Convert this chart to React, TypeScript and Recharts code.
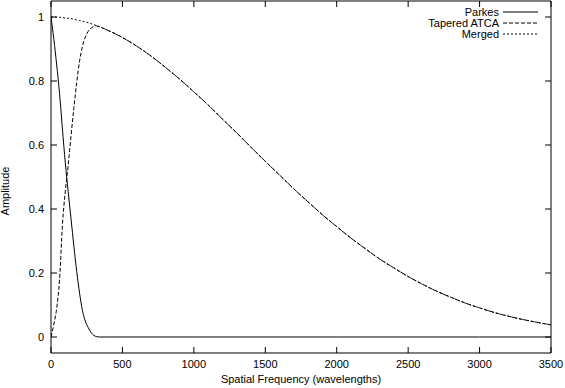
import React from "react";
import { LineChart, Line, XAxis, YAxis, ReferenceArea, Legend } from "recharts";

// ---- data ----
const PARKES_X = [0, 20, 40, 60, 80, 100, 120, 140, 160, 180, 200, 220, 240, 260, 280, 300, 320, 340, 400, 1000, 2000, 3000, 3500];
const PARKES_Y = [1.0, 0.93, 0.85, 0.76, 0.65, 0.545, 0.455, 0.37, 0.285, 0.205, 0.137, 0.083, 0.05, 0.03, 0.014, 0.005, 0.001, 0, 0, 0, 0, 0, 0];

const TAPERED_X = [0, 20, 40, 60, 80, 100, 120, 140, 160, 180, 200, 220, 240, 260, 280, 300, 320, 340, 360, 380, 400,
  500, 600, 700, 800, 900, 1000, 1100, 1200, 1300, 1400, 1500, 1600, 1700, 1800, 1900, 2000, 2100, 2200, 2300, 2400,
  2500, 2600, 2700, 2800, 2900, 3000, 3100, 3200, 3300, 3400, 3500];
const TAPERED_Y = [0, 0.04, 0.09, 0.18, 0.35, 0.455, 0.535, 0.628, 0.715, 0.795, 0.862, 0.908, 0.937, 0.955, 0.965, 0.97, 0.972, 0.969, 0.966, 0.962, 0.958,
  0.936, 0.909, 0.878, 0.843, 0.806, 0.766, 0.725, 0.681, 0.638, 0.593, 0.549, 0.506, 0.463, 0.422, 0.382, 0.345, 0.309, 0.276, 0.244, 0.216,
  0.189, 0.165, 0.143, 0.124, 0.106, 0.091, 0.077, 0.065, 0.055, 0.046, 0.038];

const MERGED_X = [0, 20, 40, 60, 80, 100, 120, 140, 160, 180, 200, 220, 240, 260, 280, 300, 320, 340, 360, 380, 400,
  500, 600, 700, 800, 900, 1000, 1100, 1200, 1300, 1400, 1500, 1600, 1700, 1800, 1900, 2000, 2100, 2200, 2300, 2400,
  2500, 2600, 2700, 2800, 2900, 3000, 3100, 3200, 3300, 3400, 3500];
const MERGED_Y = [1.0, 0.9999, 0.9996, 0.999, 0.998, 0.997, 0.996, 0.995, 0.993, 0.991, 0.989, 0.987, 0.985, 0.982, 0.979, 0.976, 0.973, 0.97, 0.966, 0.962, 0.958,
  0.936, 0.909, 0.878, 0.843, 0.806, 0.766, 0.725, 0.681, 0.638, 0.593, 0.549, 0.506, 0.463, 0.422, 0.382, 0.345, 0.309, 0.276, 0.244, 0.216,
  0.189, 0.165, 0.143, 0.124, 0.106, 0.091, 0.077, 0.065, 0.055, 0.046, 0.038];

const SERIES_NAMES = ["Parkes", "Tapered ATCA", "Merged"];
const X_TICKS = [0, 500, 1000, 1500, 2000, 2500, 3000, 3500];
const X_TICK_LABELS = ["0", "500", "1000", "1500", "2000", "2500", "3000", "3500"];
const Y_TICKS = [0, 0.2, 0.4, 0.6, 0.8, 1];
const Y_TICK_LABELS = ["0", "0.2", "0.4", "0.6", "0.8", "1"];
const X_TITLE = "Spatial Frequency (wavelengths)";
const Y_TITLE = "Amplitude";

// ---- layout ----
const W = 565;
const H = 388;
const MARGIN = { top: 1, right: 14, left: 0, bottom: 0 };
const Y_AXIS_W = 51;
const X_AXIS_H = 35;
const PLOT = {
  left: MARGIN.left + Y_AXIS_W,
  right: W - MARGIN.right,
  top: MARGIN.top,
  bottom: H - MARGIN.bottom - X_AXIS_H,
};
const FONT = "'Liberation Sans', Arial, Helvetica, sans-serif";
const FS = 11;
const DASHES = ["", "4 2", "2 2"];

const zip = (xs: number[], ys: number[]) => xs.map((x, i) => ({ x, y: ys[i] }));
const parkesData = zip(PARKES_X, PARKES_Y);
const taperedData = zip(TAPERED_X, TAPERED_Y);
const mergedData = zip(MERGED_X, MERGED_Y);

const XTick = (props: any) => {
  const { x, index } = props;
  return (
    <g>
      <line x1={x} x2={x} y1={PLOT.bottom} y2={PLOT.bottom - 6} stroke="#000" />
      <line x1={x} x2={x} y1={PLOT.top} y2={PLOT.top + 6} stroke="#000" />
      <text x={x} y={PLOT.bottom + 15} textAnchor="middle" fontSize={FS} fontFamily={FONT} fill="#000">
        {X_TICK_LABELS[index]}
      </text>
    </g>
  );
};

const YTick = (props: any) => {
  const { y, index } = props;
  return (
    <g>
      <line x1={PLOT.left} x2={PLOT.left + 6} y1={y} y2={y} stroke="#000" />
      <line x1={PLOT.right} x2={PLOT.right - 6} y1={y} y2={y} stroke="#000" />
      <text x={PLOT.left - 7} y={y + 4} textAnchor="end" fontSize={FS} fontFamily={FONT} fill="#000">
        {Y_TICK_LABELS[index]}
      </text>
    </g>
  );
};

const LegendBox = () => (
  <svg width={W} height={42} style={{ display: "block" }}>
    {SERIES_NAMES.map((name, i) => {
      const cy = 12 + i * 11;
      return (
        <g key={name}>
          <text x={499} y={cy + 4} textAnchor="end" fontSize={FS} fontFamily={FONT} fill="#000">
            {name}
          </text>
          <line x1={503} x2={538} y1={cy} y2={cy} stroke="#000" strokeWidth={1} strokeDasharray={DASHES[i]} />
        </g>
      );
    })}
  </svg>
);

export default function App() {
  return (
    <div style={{ width: W, height: H, background: "#fff", position: "relative" }}>
      <style>{"body{margin:0;background:#fff}"}</style>
      <LineChart width={W} height={H} margin={MARGIN}>
        <XAxis
          dataKey="x"
          type="number"
          domain={[0, 3500]}
          ticks={X_TICKS}
          allowDataOverflow
          height={X_AXIS_H}
          axisLine={false}
          tickLine={false}
          tick={<XTick />}
          interval={0}
          label={{
            content: () => (
              <text x={(PLOT.left + PLOT.right) / 2} y={PLOT.bottom + 30} textAnchor="middle" fontSize={FS} fontFamily={FONT} fill="#000">
                {X_TITLE}
              </text>
            ),
          }}
        />
        <YAxis
          type="number"
          domain={[-0.05, 1.05]}
          ticks={Y_TICKS}
          allowDataOverflow
          width={Y_AXIS_W}
          axisLine={false}
          tickLine={false}
          tick={<YTick />}
          interval={0}
          label={{
            content: () => (
              <text
                x={9}
                y={(PLOT.top + PLOT.bottom) / 2 + 14}
                transform={`rotate(-90, 9, ${(PLOT.top + PLOT.bottom) / 2 + 14})`}
                textAnchor="middle"
                fontSize={FS}
                fontFamily={FONT}
                fill="#000"
              >
                {Y_TITLE}
              </text>
            ),
          }}
        />
        <ReferenceArea x1={0} x2={3500} y1={-0.05} y2={1.05} fill="none" fillOpacity={0} stroke="#000" strokeWidth={1} />
        <Legend
          layout="horizontal"
          verticalAlign="middle"
          align="center"
          content={<LegendBox />}
          wrapperStyle={{ position: "absolute", top: 0, left: 0, width: W, height: 42 }}
        />
        <Line data={mergedData} dataKey="y" name={SERIES_NAMES[2]} type="monotone" stroke="#000" strokeWidth={1} strokeDasharray={DASHES[2]} dot={false} activeDot={false} isAnimationActive={false} />
        <Line data={taperedData} dataKey="y" name={SERIES_NAMES[1]} type="monotone" stroke="#000" strokeWidth={1} strokeDasharray={DASHES[1]} dot={false} activeDot={false} isAnimationActive={false} />
        <Line data={parkesData} dataKey="y" name={SERIES_NAMES[0]} type="monotone" stroke="#000" strokeWidth={1} dot={false} activeDot={false} isAnimationActive={false} />
      </LineChart>
    </div>
  );
}
